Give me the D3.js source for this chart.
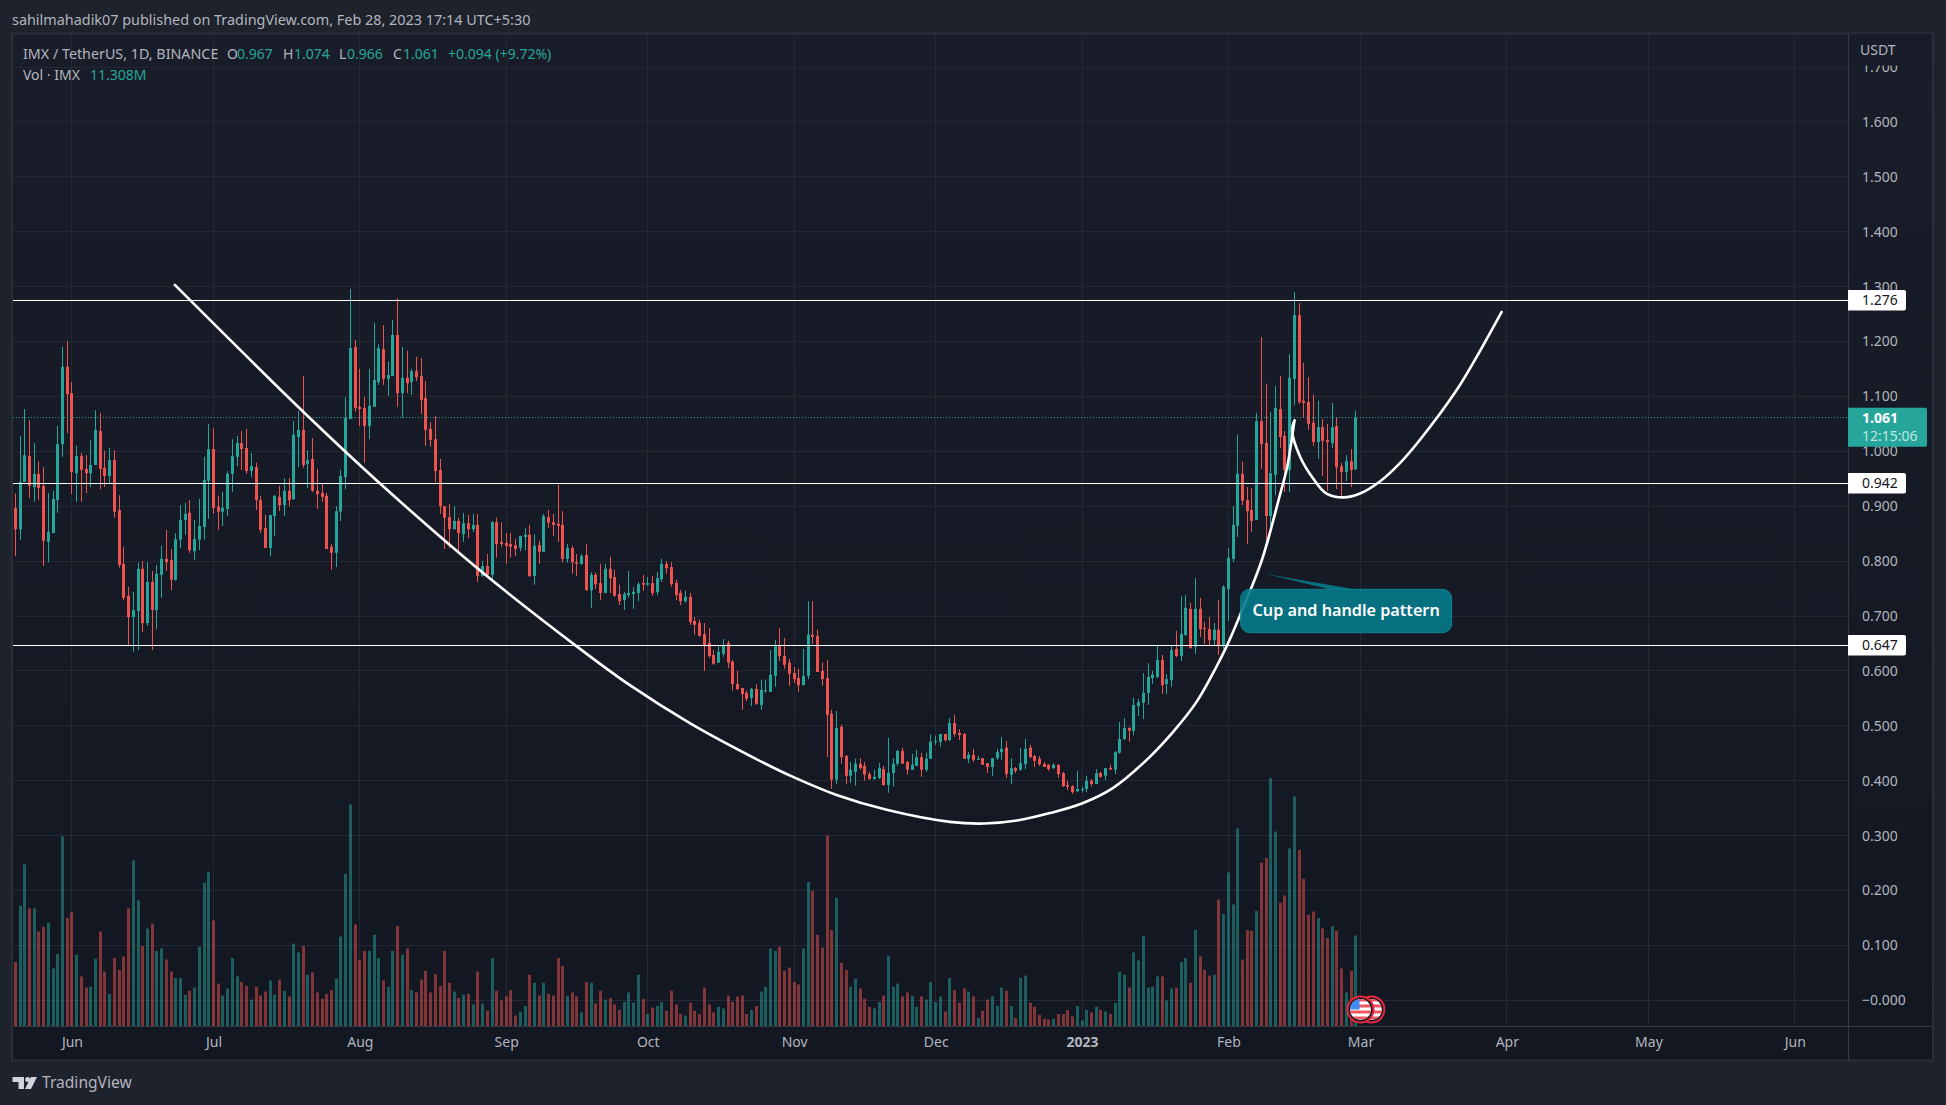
<!DOCTYPE html>
<html>
<head>
<meta charset="utf-8">
<script src="https://cdnjs.cloudflare.com/ajax/libs/d3/7.8.5/d3.min.js"></script>
<style>
html, body { margin: 0; padding: 0; background: #1e222d; overflow: hidden; }
svg { display: block; }
text { font-family: "Noto Sans", "Lato", sans-serif; }
</style>
</head>
<body>
<script>
// daily candles, first bar is 2022-05-20, last is 2023-02-28
var opens = [.897,.858,.944,.991,.935,.959,.937,.835,.851,.911,
1.013,1.154,1.106,.960,.991,.968,.960,.975,1.037,.970,
.955,.984,.893,.795,.737,.698,.709,.786,.687,.762,
.711,.775,.804,.802,.766,.839,.875,.888,.818,.839,
.862,.946,1.004,.899,.890,.895,.959,.990,1.015,1.006,
.964,.971,.911,.860,.824,.882,.917,.902,.928,.913,
1.026,1.039,.977,.986,.928,.924,.919,.826,.815,.890,
.953,1.059,1.190,1.081,1.079,1.046,1.081,1.126,1.186,1.132,
1.137,1.212,1.106,1.134,1.126,1.146,1.137,1.097,1.041,1.022,
.966,.900,.880,.858,.873,.849,.869,.858,.866,.773,
.791,.775,.871,.835,.833,.831,.829,.824,.844,.848,
.773,.829,.817,.880,.871,.868,.866,.804,.824,.798,
.795,.811,.747,.775,.760,.742,.786,.771,.740,.729,
.738,.740,.742,.760,.757,.760,.744,.767,.795,.789,
.760,.742,.727,.735,.691,.687,.667,.651,.629,.615,
.631,.651,.617,.576,.569,.560,.551,.567,.538,.564,
.562,.591,.645,.627,.615,.596,.587,.574,.591,.666,
.664,.600,.587,.522,.402,.498,.445,.409,.416,.431,
.427,.412,.403,.405,.421,.392,.414,.431,.454,.434,
.420,.427,.443,.420,.440,.471,.471,.485,.474,.505,
.487,.485,.440,.447,.438,.441,.432,.425,.441,.452,
.460,.411,.423,.420,.430,.460,.445,.440,.430,.429,
.423,.429,.414,.392,.390,.381,.383,.385,.400,.394,
.414,.409,.423,.420,.451,.476,.496,.491,.536,.542,
.560,.587,.589,.620,.576,.583,.640,.627,.665,.713,
.644,.713,.678,.676,.656,.675,.645,.749,.804,.864,
.959,.911,.893,.875,1.055,1.015,.882,.957,1.077,1.028,
.966,1.132,1.248,1.092,1.090,1.052,1.017,1.044,1.021,1.015,
1.046,.973,.962,.982,.967];

var highs = [.923,1.028,1.077,1.057,1.015,.982,.971,.924,.928,1.046,
1.190,1.201,1.126,1.010,.997,.993,1.021,1.075,1.070,1.001,
1.006,1.002,.920,.826,.753,.744,.797,.800,.798,.782,
.793,.828,.857,.822,.851,.902,.906,.911,.875,.913,
.990,1.050,1.042,.919,.926,.964,1.022,1.028,1.037,1.041,
.997,.979,.919,.884,.884,.920,.937,.951,.951,1.055,
1.073,1.137,1.002,1.024,.968,.942,.924,.831,.900,.966,
1.099,1.296,1.203,1.150,1.099,1.150,1.234,1.195,1.230,1.163,
1.239,1.279,1.190,1.183,1.150,1.172,1.170,1.128,1.053,1.064,
.986,.900,.904,.900,.879,.888,.884,.886,.886,.800,
.813,.873,.879,.870,.851,.851,.840,.846,.860,.866,
.849,.837,.886,.893,.886,.939,.891,.831,.828,.813,
.813,.831,.780,.779,.795,.795,.808,.784,.757,.744,
.782,.753,.762,.775,.771,.773,.780,.804,.800,.798,
.766,.747,.746,.742,.698,.693,.687,.678,.638,.646,
.658,.655,.620,.600,.569,.564,.569,.576,.584,.584,
.638,.656,.678,.660,.622,.607,.604,.640,.727,.727,
.675,.615,.620,.529,.527,.502,.447,.434,.440,.441,
.434,.416,.420,.432,.427,.478,.441,.456,.460,.436,
.449,.456,.451,.451,.484,.482,.485,.485,.514,.520,
.494,.487,.452,.458,.445,.441,.432,.441,.458,.480,
.472,.441,.425,.460,.476,.465,.447,.445,.434,.430,
.432,.430,.416,.400,.392,.418,.389,.409,.403,.421,
.416,.423,.429,.454,.507,.514,.498,.551,.549,.596,
.614,.600,.647,.629,.594,.647,.673,.736,.738,.724,
.769,.733,.689,.698,.687,.729,.756,.824,.900,1.030,
.981,.935,.933,1.070,1.208,1.123,1.072,1.119,1.137,1.037,
1.177,1.290,1.270,1.161,1.135,1.103,1.092,1.059,1.050,1.088,
1.061,.979,.993,1.004,1.074];

var lows = [.809,.839,.944,.915,.908,.911,.791,.798,.851,.888,
.990,1.033,.922,.908,.908,.924,.935,.975,.931,.935,
.941,.879,.788,.729,.645,.635,.638,.671,.682,.638,
.676,.733,.782,.747,.764,.824,.848,.815,.802,.820,
.839,.877,.886,.857,.864,.882,.926,.973,.966,.959,
.953,.893,.851,.824,.809,.846,.891,.882,.900,.911,
.971,.970,.933,.926,.895,.908,.822,.784,.789,.873,
.931,1.059,1.072,1.046,.979,1.022,1.081,1.121,1.121,1.101,
1.137,1.081,1.061,1.106,1.103,1.128,1.068,1.010,1.008,.944,
.886,.822,.824,.858,.818,.835,.842,.853,.762,.771,
.773,.762,.806,.826,.795,.806,.809,.818,.820,.771,
.757,.795,.817,.860,.846,.835,.797,.797,.777,.773,
.793,.746,.715,.749,.729,.742,.742,.735,.720,.711,
.733,.713,.727,.746,.755,.737,.738,.762,.777,.753,
.729,.720,.724,.684,.666,.662,.600,.624,.611,.615,
.626,.605,.564,.565,.529,.545,.536,.538,.529,.560,
.562,.571,.618,.604,.573,.578,.562,.574,.585,.649,
.598,.573,.443,.385,.394,.431,.394,.396,.391,.420,
.400,.402,.402,.403,.391,.378,.389,.427,.431,.411,
.420,.427,.407,.416,.440,.465,.462,.471,.472,.480,
.474,.440,.432,.434,.438,.429,.414,.409,.438,.438,
.405,.394,.414,.418,.421,.441,.425,.427,.425,.418,
.421,.405,.389,.383,.376,.379,.379,.379,.390,.394,
.405,.401,.420,.412,.449,.474,.471,.483,.518,.512,
.538,.576,.587,.558,.558,.571,.625,.618,.665,.640,
.631,.662,.649,.645,.645,.629,.640,.691,.798,.844,
.902,.831,.853,.875,.968,.839,.864,.920,1.006,.926,
.926,1.084,1.086,1.061,1.039,1.010,.986,.955,.928,1.006,
.931,.915,.946,.935,.966];

var closes = [.858,.944,.993,.937,.959,.933,.837,.853,.913,1.013,
1.154,1.104,.962,.991,.966,.960,.975,1.039,.968,.955,
.984,.890,.793,.733,.698,.711,.786,.687,.762,.711,
.777,.804,.798,.766,.840,.875,.886,.820,.840,.864,
.948,1.004,.897,.890,.897,.959,.991,1.015,1.004,.964,
.973,.911,.857,.824,.884,.919,.902,.928,.911,1.030,
1.039,.975,.984,.928,.922,.917,.822,.815,.891,.955,
1.061,1.188,1.079,1.077,1.046,1.083,1.130,1.188,1.132,1.139,
1.212,1.106,1.134,1.124,1.146,1.135,1.093,1.039,1.021,.964,
.900,.879,.858,.873,.851,.869,.858,.866,.773,.791,
.775,.871,.831,.831,.828,.826,.822,.846,.848,.773,
.828,.817,.882,.870,.866,.864,.804,.824,.798,.795,
.809,.747,.775,.758,.742,.786,.769,.737,.727,.740,
.742,.744,.758,.757,.760,.742,.769,.795,.787,.758,
.738,.727,.735,.689,.684,.664,.647,.627,.613,.635,
.647,.615,.576,.567,.558,.549,.567,.540,.565,.565,
.593,.645,.627,.611,.595,.585,.574,.591,.666,.662,
.598,.585,.520,.402,.496,.443,.409,.420,.431,.423,
.411,.403,.407,.423,.392,.414,.431,.454,.431,.420,
.429,.443,.420,.440,.471,.472,.485,.474,.505,.485,
.483,.440,.447,.438,.440,.429,.425,.441,.452,.458,
.412,.423,.418,.432,.458,.443,.436,.430,.425,.421,
.429,.412,.390,.389,.379,.385,.385,.400,.394,.414,
.407,.423,.420,.452,.476,.496,.491,.538,.543,.560,
.589,.593,.620,.574,.585,.638,.627,.667,.715,.642,
.713,.676,.676,.656,.675,.645,.753,.806,.866,.959,
.910,.891,.873,1.055,1.013,.882,.960,1.079,1.026,.966,
1.134,1.248,1.090,1.088,1.050,1.017,1.044,1.019,1.017,1.044,
.971,.962,.982,.966,1.061];

// volume in millions
var volumes = [8.0,15.0,20.2,14.7,14.7,11.8,12.4,12.9,7.2,9.0,
23.7,13.5,14.3,8.9,6.2,4.8,4.9,8.4,11.8,6.8,
4.0,8.5,7.0,8.7,14.7,20.7,15.7,10.0,12.2,12.8,
9.4,9.7,8.3,6.8,6.0,6.0,3.9,4.4,4.8,9.9,
17.9,19.3,13.2,5.3,3.8,4.7,8.5,6.2,5.5,5.0,
3.3,4.9,3.8,4.3,5.7,3.9,5.8,4.4,3.7,10.3,
9.2,10.0,6.4,6.7,4.2,3.4,4.0,4.5,5.9,11.2,
19.0,27.7,12.7,8.3,9.4,9.4,11.4,8.5,5.7,4.9,
9.4,12.5,8.9,9.7,4.5,4.2,5.8,6.9,4.2,6.5,
5.0,9.4,5.4,4.3,3.5,3.9,4.0,2.7,6.8,2.8,
1.9,8.5,4.4,3.2,3.7,4.5,1.3,1.8,2.5,6.4,
5.4,3.8,5.4,4.0,3.8,8.5,7.5,3.8,4.2,3.7,
1.7,5.5,5.4,2.8,4.4,3.3,3.5,2.7,2.0,3.0,
4.2,2.9,6.4,3.4,1.5,2.3,2.5,3.0,1.9,4.4,
2.7,1.5,1.3,2.9,1.9,1.5,4.8,2.7,1.7,2.4,
2.2,3.8,3.0,3.7,3.8,1.5,2.0,2.5,4.3,4.9,
9.7,9.4,9.9,6.9,7.3,5.5,5.2,9.7,18.0,16.9,
11.4,9.8,23.8,12.0,16.0,7.9,7.0,4.9,5.9,4.7,
3.4,2.4,2.2,3.0,3.8,8.8,4.9,5.3,3.7,4.2,
3.8,2.4,3.7,3.3,5.5,3.0,3.7,1.8,6.0,4.5,
2.9,4.7,4.3,3.7,1.0,1.9,3.3,3.7,2.5,4.8,
4.4,2.5,1.0,6.0,6.3,2.9,2.4,1.4,0.9,0.8,
0.9,1.5,1.5,2.0,1.2,2.5,0.7,2.0,1.7,2.4,
2.0,1.8,1.5,2.9,6.8,6.4,4.8,9.2,8.2,11.3,
4.8,4.9,6.2,6.2,3.2,4.7,4.8,8.0,8.5,5.4,
12.0,8.7,7.0,6.3,6.4,15.8,14.0,19.2,15.2,24.7,
8.3,12.0,11.9,14.4,20.4,21.0,31.0,24.3,15.4,16.3,
22.2,28.7,22.0,18.4,13.9,14.3,13.5,12.2,11.0,12.5,
11.9,7.2,4.2,6.9,11.308];

var priceTicks = [1.7,1.6,1.5,1.4,1.3,1.2,1.1,1.0,.9,.8,.7,.6,.5,.4,.3,.2,.1,0];
var monthBars = [12,42,73,104,134,165,195,226,257,285,316,346,377];
var monthLabels = ["Jun","Jul","Aug","Sep","Oct","Nov","Dec","2023","Feb","Mar","Apr","May","Jun"];
var levels = [1.276,0.942,0.647];
var lastPrice = 1.061;

// the hand drawn curves, as bar number / price
var cupBars = [33.8,61,76.8,97.9,118.6,130.2,142.9,157.1,165,174,184.6,198,205.4,212.2,219.2,226.1,232.6,239.7,245.3,250.3,254.5,256.7,259.5,264.1,268,269.4,271];
var cupPrices = [1.303,1.072,.945,.787,.647,.574,.505,.439,.406,.374,.347,.325,.322,.3275,.341,.359,.387,.438,.489,.544,.608,.646,.702,.802,.923,.969,1.056];
var handleBars = [271,270.5,272.2,275,277.8,281.4,284.9,289.1,293.3,297.6,305.4,309.6,314.9];
var handlePrices = [1.056,1.039,.990,.950,.923,.916,.923,.945,.978,1.021,1.112,1.172,1.254];

var calloutBars = [259.6,304.3];
var calloutPrices = [.7486,.6696];
var tailBars = [265,278.5,283.8];
var tailPrice = .7765;

var width = 1946, height = 1105;
var left = 13, right = 1848, top_ = 34, bottom = 1026, axisBottom = 1060;
var upColor = "#26a69a", downColor = "#ef5350", labelColor = "#b2b5be";

var x = d3.scaleLinear().domain([0,284]).range([15.3,1355.8]);
var y = d3.scaleLinear().domain([0,1]).range([1000.3,451.3]);
var yVol = d3.scaleLinear().domain([0,31]).range([bottom,bottom-248]);

function snap(v) { return Math.floor(v) + 0.5; }

var svg = d3.select("body").append("svg")
    .attr("width", width)
    .attr("height", height);

var defs = svg.append("defs");
var grad = defs.append("linearGradient")
    .attr("id", "paneBg")
    .attr("x1", 0).attr("y1", 0).attr("x2", 0).attr("y2", 1);
grad.append("stop").attr("offset", "0%").attr("stop-color", "#191d29");
grad.append("stop").attr("offset", "100%").attr("stop-color", "#131722");

defs.append("clipPath").attr("id", "plotClip")
    .append("rect")
    .attr("x", left).attr("y", top_)
    .attr("width", right-left).attr("height", bottom-top_);

svg.append("rect")
    .attr("width", width).attr("height", height)
    .attr("fill", "#1e222d");

// pane and its frame
svg.append("rect")
    .attr("x", 12).attr("y", 33.5)
    .attr("width", 1921).attr("height", 1027)
    .attr("fill", "url(#paneBg)")
    .attr("stroke", "#2a2e39")
    .attr("stroke-width", 2);

// grid
var plot = svg.append("g").attr("clip-path", "url(#plotClip)");

plot.append("g").selectAll("line").data(monthBars).join("line")
    .attr("x1", function(d) { return snap(x(d)); })
    .attr("x2", function(d) { return snap(x(d)); })
    .attr("y1", top_).attr("y2", bottom)
    .attr("stroke", "#242833");

plot.append("g").selectAll("line").data(priceTicks).join("line")
    .attr("x1", left).attr("x2", right)
    .attr("y1", function(d) { return snap(y(d)); })
    .attr("y2", function(d) { return snap(y(d)); })
    .attr("stroke", "#242833");

// volume
plot.append("g").selectAll("rect").data(volumes).join("rect")
    .attr("x", function(d,i) { return Math.floor(x(i)) - 1; })
    .attr("width", 3)
    .attr("y", function(d) { return yVol(d); })
    .attr("height", function(d) { return bottom - yVol(d); })
    .attr("fill", function(d,i) { return closes[i] >= opens[i] ? upColor : downColor; })
    .attr("opacity", 0.5);

// candles
var candles = plot.append("g").selectAll("g").data(d3.range(opens.length)).join("g")
    .attr("fill", function(i) { return closes[i] >= opens[i] ? upColor : downColor; })
    .attr("stroke", function(i) { return closes[i] >= opens[i] ? upColor : downColor; });

candles.append("line")
    .attr("x1", function(i) { return snap(x(i)); })
    .attr("x2", function(i) { return snap(x(i)); })
    .attr("y1", function(i) { return y(highs[i]); })
    .attr("y2", function(i) { return y(lows[i]); });

candles.append("rect")
    .attr("stroke", "none")
    .attr("x", function(i) { return Math.floor(x(i)) - 1; })
    .attr("width", 3)
    .attr("y", function(i) { return y(Math.max(opens[i], closes[i])); })
    .attr("height", function(i) { return Math.max(1, Math.abs(y(opens[i]) - y(closes[i]))); });

// last price dotted line
plot.append("line")
    .attr("x1", left).attr("x2", right)
    .attr("y1", snap(y(lastPrice))).attr("y2", snap(y(lastPrice)))
    .attr("stroke", upColor)
    .attr("stroke-dasharray", "1,2");

// horizontal levels
plot.append("g").selectAll("line").data(levels).join("line")
    .attr("x1", left).attr("x2", right)
    .attr("y1", function(d) { return Math.round(y(d)) + 0.5; })
    .attr("y2", function(d) { return Math.round(y(d)) + 0.5; })
    .attr("stroke", "#ffffff")
    .attr("stroke-width", 1.2);

// cup and handle curves
var curve = d3.line()
    .x(function(d) { return x(d[0]); })
    .y(function(d) { return y(d[1]); })
    .curve(d3.curveCatmullRom.alpha(0.5));

plot.append("path")
    .datum(d3.zip(cupBars, cupPrices))
    .attr("d", curve)
    .attr("fill", "none").attr("stroke", "#ffffff").attr("stroke-width", 2.6).attr("stroke-linecap", "round");

plot.append("path")
    .datum(d3.zip(handleBars, handlePrices))
    .attr("d", curve)
    .attr("fill", "none").attr("stroke", "#ffffff").attr("stroke-width", 2.6).attr("stroke-linecap", "round");

// callout
var callout = plot.append("g").attr("opacity", 0.9);
callout.append("path")
    .attr("d", "M" + x(tailBars[0]) + "," + y(tailPrice)
        + "L" + x(tailBars[1]) + "," + y(calloutPrices[0])
        + "L" + x(tailBars[2]) + "," + y(calloutPrices[0]) + "Z")
    .attr("fill", "#067a8a");
callout.append("rect")
    .attr("x", x(calloutBars[0]))
    .attr("y", y(calloutPrices[0]))
    .attr("width", x(calloutBars[1]) - x(calloutBars[0]))
    .attr("height", y(calloutPrices[1]) - y(calloutPrices[0]))
    .attr("rx", 9)
    .attr("fill", "#067a8a")
    .attr("stroke", "#0a8fa0");
plot.append("text")
    .attr("x", (x(calloutBars[0]) + x(calloutBars[1])) / 2)
    .attr("y", (y(calloutPrices[0]) + y(calloutPrices[1])) / 2 - 1)
    .attr("dy", "0.35em")
    .attr("text-anchor", "middle")
    .attr("fill", "#ffffff")
    .attr("font-size", 16.2)
    .attr("font-weight", 600)
    .text("Cup and handle pattern");

// us flag event markers
function drawFlag(cx, cy, id) {
    var g = svg.append("g").attr("transform", "translate(" + cx + "," + cy + ")");
    defs.append("clipPath").attr("id", id).append("circle").attr("r", 10.5);
    g.append("circle").attr("r", 13).attr("fill", "#131722").attr("stroke", "#e5283c").attr("stroke-width", 2);
    var flag = g.append("g").attr("clip-path", "url(#" + id + ")");
    flag.append("rect").attr("x", -11).attr("y", -11).attr("width", 22).attr("height", 22).attr("fill", "#ffffff");
    d3.range(-11, 11, 6).forEach(function(s) {
        flag.append("rect").attr("x", -11).attr("y", s).attr("width", 22).attr("height", 3).attr("fill", "#f0565f");
    });
    flag.append("rect").attr("x", -11).attr("y", -11).attr("width", 10).attr("height", 11).attr("fill", "#3d8bf2");
}
drawFlag(x(287.3), 1009.5, "flagB");
drawFlag(x(285), 1009.5, "flagA");

// price axis
svg.append("rect")
    .attr("x", right).attr("y", top_).attr("width", 84).attr("height", bottom-top_)
    .attr("fill", "url(#paneBg)");

var priceAxis = d3.axisRight(y)
    .tickValues(priceTicks)
    .tickSize(0)
    .tickPadding(14)
    .tickFormat(function(d) { return d === 0 ? "\u22120.000" : d3.format(".3f")(d); });

var priceG = svg.append("g")
    .attr("transform", "translate(" + right + ",0)")
    .call(priceAxis);
priceG.select(".domain").remove();
priceG.selectAll("text")
    .attr("fill", labelColor)
    .attr("font-size", 14)
    .style("font-family", "'Noto Sans', Lato, sans-serif");

// hides the top of the 1.700 label, like the unit header does
svg.append("rect")
    .attr("x", right + 1).attr("y", top_).attr("width", 82).attr("height", 31.5)
    .attr("fill", "#181c28");
svg.append("text")
    .attr("x", 1860).attr("y", 55)
    .attr("fill", labelColor)
    .attr("font-size", 14)
    .text("USDT");

// time axis
var timeAxis = d3.axisBottom(x)
    .tickValues(monthBars)
    .tickSize(0)
    .tickPadding(11)
    .tickFormat(function(d,i) { return monthLabels[i]; });

var timeG = svg.append("g")
    .attr("transform", "translate(0," + bottom + ")")
    .call(timeAxis);
timeG.select(".domain").remove();
timeG.selectAll("text")
    .attr("fill", labelColor)
    .attr("font-size", 14)
    .attr("font-weight", function(d,i) { return monthLabels[i] === "2023" ? 700 : 400; })
    .style("font-family", "'Noto Sans', Lato, sans-serif");

// separators
svg.append("line").attr("x1", left).attr("x2", 1932).attr("y1", bottom + .5).attr("y2", bottom + .5).attr("stroke", "#363a45");
svg.append("line").attr("x1", right + .5).attr("x2", right + .5).attr("y1", top_).attr("y2", axisBottom).attr("stroke", "#363a45");

// price tags
levels.forEach(function(d) {
    svg.append("path")
        .attr("d", "M" + right + "," + (Math.round(y(d)) - 10) + "h56a2,2 0 0 1 2,2v16.6a2,2 0 0 1 -2,2h-56Z")
        .attr("fill", "#ffffff");
    svg.append("text")
        .attr("x", 1862).attr("y", y(d))
        .attr("dy", "0.35em")
        .attr("fill", "#131722")
        .attr("font-size", 14)
        .text(d3.format(".3f")(d));
});

svg.append("path")
    .attr("d", "M" + right + "," + (y(lastPrice) - 10) + "h77a2,2 0 0 1 2,2v35a2,2 0 0 1 -2,2h-77Z")
    .attr("fill", upColor);
svg.append("text")
    .attr("x", 1862).attr("y", y(lastPrice))
    .attr("dy", "0.35em")
    .attr("fill", "#ffffff")
    .attr("font-size", 14)
    .attr("font-weight", 700)
    .text(d3.format(".3f")(lastPrice));
svg.append("text")
    .attr("x", 1862).attr("y", y(lastPrice) + 18)
    .attr("dy", "0.35em")
    .attr("fill", "#bfe6e2")
    .attr("font-size", 14)
    .text("12:15:06");

// header
svg.append("text")
    .attr("x", 12).attr("y", 25)
    .attr("fill", labelColor)
    .attr("font-size", 14.4)
    .text("sahilmahadik07 published on TradingView.com, Feb 28, 2023 17:14 UTC+5:30");

// legend rows
function legend(px, py, str, color, size) {
    svg.append("text").attr("x", px).attr("y", py)
        .attr("fill", color).attr("font-size", size || 14).text(str);
}
legend(23, 59, "IMX / TetherUS, 1D, BINANCE", labelColor, 14.3);
legend(227, 59, "O", labelColor);
legend(237, 59, d3.format(".3f")(opens[284]), upColor);
legend(283, 59, "H", labelColor);
legend(294, 59, d3.format(".3f")(highs[284]), upColor);
legend(339, 59, "L", labelColor);
legend(347, 59, d3.format(".3f")(lows[284]), upColor);
legend(393, 59, "C", labelColor);
legend(403, 59, d3.format(".3f")(closes[284]), upColor);
legend(448, 59, "+0.094 (+9.72%)", upColor);
legend(23, 80, "Vol \u00b7 IMX", labelColor);
legend(90, 80, d3.format(".3f")(volumes[284]) + "M", upColor);

// tradingview logo
var logo = svg.append("g").attr("fill", "#d1d4dc");
logo.append("path").attr("d", "M12.5,1077H24V1089H18.5V1082H12.5Z");
logo.append("circle").attr("cx", 27.7).attr("cy", 1079.5).attr("r", 2.5);
logo.append("path").attr("d", "M31,1077H37L31,1089H25Z");
svg.append("text")
    .attr("x", 42).attr("y", 1088)
    .attr("fill", labelColor)
    .attr("font-size", 15.6)
    .text("TradingView");
</script>
</body>
</html>
